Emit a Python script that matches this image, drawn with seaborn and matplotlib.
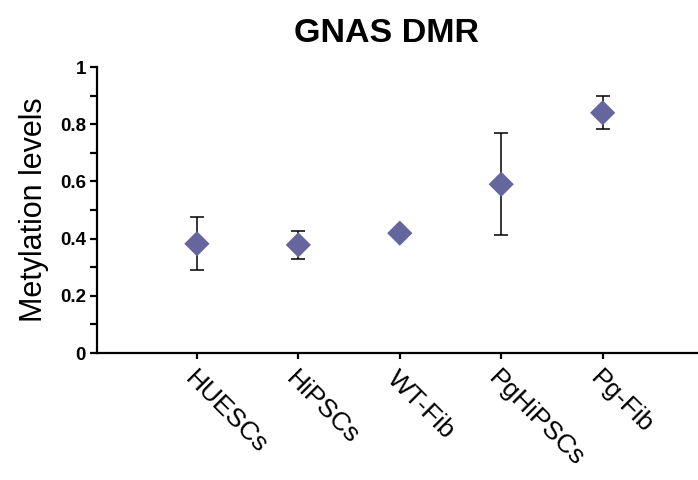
import matplotlib
matplotlib.use("Agg")
import matplotlib.pyplot as plt
from matplotlib.ticker import MultipleLocator
import seaborn as sns
import pandas as pd

# Mean methylation level and spread for each cell line
cell_lines = ["HUESCs", "HiPSCs", "WT-Fib", "PgHiPSCs", "Pg-Fib"]
methylation = [0.382, 0.378, 0.419, 0.590, 0.840]
error = [0.093, 0.050, 0.0, 0.178, 0.058]
y_ticks = [0, 0.2, 0.4, 0.6, 0.8, 1]
y_tick_labels = ["0", "0.2", "0.4", "0.6", "0.8", "1"]

df = pd.DataFrame({"line": cell_lines, "level": methylation, "err": error})

sns.set_theme(style="white")
plt.rcParams["font.family"] = ["Liberation Sans", "DejaVu Sans"]
plt.rcParams["text.color"] = "black"
plt.rcParams["axes.labelcolor"] = "black"
plt.rcParams["xtick.color"] = "black"
plt.rcParams["ytick.color"] = "black"

fig = plt.figure(figsize=(6.98, 4.80), dpi=100)
ax = fig.add_axes([97 / 698, 1 - 353 / 480, 1 - 97 / 698, (353 - 67) / 480])

xpos = list(range(len(cell_lines)))
ax.errorbar(xpos, df["level"], yerr=df["err"], fmt="none", ecolor="black",
            elinewidth=1.1, capsize=5, capthick=1.1, zorder=2)
sns.scatterplot(x=xpos, y=df["level"], marker="D", s=165, color="#66669E",
                edgecolor="none", ax=ax, zorder=3, legend=False)

ax.set_xlim(-0.985, 4.94)
ax.set_ylim(0, 1)
ax.set_xticks(xpos)
ax.set_xticklabels(cell_lines, rotation=-45, ha="left", va="top",
                   rotation_mode="anchor", fontsize=19)
ax.set_yticks(y_ticks)
ax.set_yticklabels(y_tick_labels, fontsize=13.5, fontweight="bold")
ax.yaxis.set_minor_locator(MultipleLocator(0.1))

for side in ("top", "right"):
    ax.spines[side].set_visible(False)
for side in ("left", "bottom"):
    ax.spines[side].set_linewidth(1.6)
    ax.spines[side].set_color("black")

ax.tick_params(axis="y", which="major", direction="out", length=5, width=1.6,
               left=True, pad=3)
ax.tick_params(axis="y", which="minor", direction="out", length=5, width=1.6,
               left=True)
ax.tick_params(axis="x", which="major", direction="out", length=4.5, width=1.6,
               bottom=True, pad=5)
ax.grid(False)

ax.set_xlabel("")
ax.set_ylabel("Metylation levels", fontsize=22, labelpad=8)

fig.text(387 / 698, 1 - 33 / 480, "GNAS DMR", ha="center", va="center",
         fontsize=24.5, fontweight="bold")

fig.savefig("out.png", dpi=100)
